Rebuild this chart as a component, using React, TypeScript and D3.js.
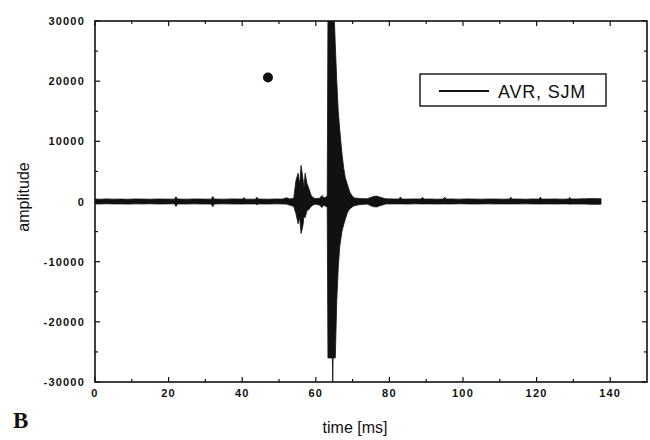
import * as d3 from "d3";

// envelope of the recorded signal, rows are [time ms, upper, lower]
const preBurst: [number, number, number][] = [
  [0, 420, -400], [1.5, 380, -420], [3, 430, -380], [5, 390, -410], [7, 410, -400],
  [9, 370, -430], [11, 430, -390], [13, 400, -410], [15, 380, -380], [17, 420, -420],
  [19, 400, -400], [21.6, 390, -380], [22, 780, -820], [22.4, 410, -400], [25, 380, -420],
  [27, 430, -390], [29, 400, -410], [31.6, 390, -420], [32, 820, -860], [32.4, 400, -400],
  [35, 380, -390], [37, 430, -410], [40.1, 400, -420], [40.5, 650, -420], [40.9, 390, -400],
  [43.6, 390, -400], [44, 720, -520], [44.4, 410, -400], [47, 380, -420], [49, 420, -390],
  [51, 400, -410], [52, 620, -430], [53, 430, -620], [54, 520, -820],
];
const burst: [number, number, number][] = [
  [54.6, 3500, -2000], [55.2, 4700, -3700], [55.6, 2800, -2600], [56, 6000, -5300],
  [56.5, 3800, -4000], [56.8, 2200, -2400], [57.1, 4700, -2700], [57.6, 3000, -1500],
  [58.2, 2000, -1300], [58.6, 1200, -900], [59, 800, -700], [59.5, 550, -500],
  [60, 500, -450], [61, 520, -600], [61.7, 1000, -1000], [62.2, 600, -600],
  [62.7, 700, -800], [63.1, 900, -900],
];
const mainPulse: [number, number, number][] = [
  [63.3, 31000, -26000], [64.5, 31000, -26000], [64.6, 31000, -30500], [64.7, 31000, -26000],
  [65.0, 31000, -26000], [65.3, 26000, -26000], [65.7, 20000, -16500], [66.1, 15000, -11000],
  [66.5, 12000, -7500], [67.1, 8000, -5000], [67.6, 5500, -3800], [68, 4000, -3000],
  [68.5, 3000, -2000], [68.9, 2200, -1500], [69.3, 1500, -1200], [69.9, 900, -900],
  [70.5, 600, -700],
];
const tail: [number, number, number][] = [
  [72, 480, -500], [74, 450, -430], [75.5, 800, -850], [76.5, 900, -900], [77.5, 700, -700],
  [79, 450, -400], [81, 420, -410], [82.6, 420, -400], [83, 750, -400], [83.4, 400, -400],
  [85, 400, -420], [87, 430, -390], [88.6, 410, -410], [89, 680, -410], [89.4, 410, -400],
  [91, 410, -400], [93, 380, -420], [94.6, 400, -400], [95, 700, -400], [95.4, 420, -410],
  [97, 420, -410], [99, 390, -380], [101, 430, -400], [103, 400, -420], [105, 380, -400],
  [107, 420, -390], [109, 400, -410], [111, 390, -400], [112.6, 400, -400], [113, 700, -420],
  [113.4, 410, -400], [115, 410, -400], [117, 380, -390], [119, 430, -410], [120.6, 400, -410],
  [121, 720, -430], [121.4, 400, -400], [123, 400, -400], [125, 420, -420], [127, 390, -400],
  [128.6, 420, -400], [129, 650, -450], [129.4, 420, -420], [131, 420, -420], [133, 450, -430],
  [135, 480, -460], [137.5, 460, -450],
];

const xTicks = [0, 20, 40, 60, 80, 100, 120, 140];
const xMinor = [10, 30, 50, 70, 90, 110, 130];
const yTicks = [-30000, -20000, -10000, 0, 10000, 20000, 30000];
const yMinor = [-25000, -15000, -5000, 5000, 15000, 25000];
const marker = { t: 47, v: 20600 };
const legendLabel = "AVR, SJM";

export default function App() {
  const x = d3.scaleLinear().domain([0, 150]).range([95, 647]);
  const y = d3.scaleLinear().domain([-30000, 30000]).range([382, 21]);
  const [x0, x1] = x.range();
  const [yb, yt] = y.range();

  const signal = [...preBurst, ...burst, ...mainPulse, ...tail];
  const area = d3
    .area<[number, number, number]>()
    .x((d) => x(d[0]))
    .y0((d) => y(d[2]))
    .y1((d) => y(d[1]));

  const tickFont = {
    fontFamily: "Liberation Sans, Arial, sans-serif",
    fontSize: 11,
    fontWeight: 700,
    letterSpacing: 1.2,
  };

  return (
    <svg width={650} height={440} style={{ position: "absolute", left: 0, top: 0, background: "#fff" }}>
      <defs>
        <clipPath id="plot">
          <rect x={x0} y={yt} width={x1 - x0} height={yb - yt} />
        </clipPath>
      </defs>

      <path
        d={area(signal) ?? ""}
        fill="#111"
        stroke="#111"
        strokeWidth={0.8}
        strokeLinejoin="round"
        clipPath="url(#plot)"
      />

      <circle cx={x(marker.t)} cy={y(marker.v)} r={5} fill="#111" />

      {/* frame */}
      <rect x={x0} y={yt} width={x1 - x0} height={yb - yt} fill="none" stroke="#111" strokeWidth={1.6} />

      {/* x ticks, bottom and top, pointing inward */}
      {xTicks.map((t) => (
        <g key={"xt" + t}>
          <line x1={x(t)} x2={x(t)} y1={yb} y2={yb - 5} stroke="#111" strokeWidth={1.2} />
          <line x1={x(t)} x2={x(t)} y1={yt} y2={yt + 5} stroke="#111" strokeWidth={1.2} />
          <text x={x(t)} y={397} textAnchor="middle" {...tickFont} fill="#111">
            {t}
          </text>
        </g>
      ))}
      {xMinor.map((t) => (
        <g key={"xm" + t}>
          <line x1={x(t)} x2={x(t)} y1={yb} y2={yb - 3} stroke="#111" strokeWidth={1.2} />
          <line x1={x(t)} x2={x(t)} y1={yt} y2={yt + 3} stroke="#111" strokeWidth={1.2} />
        </g>
      ))}

      {/* y ticks, left and right */}
      {yTicks.map((v) => (
        <g key={"yt" + v}>
          <line x1={x0} x2={x0 + 5} y1={y(v)} y2={y(v)} stroke="#111" strokeWidth={1.2} />
          <line x1={x1} x2={x1 - 5} y1={y(v)} y2={y(v)} stroke="#111" strokeWidth={1.2} />
          <text x={85} y={y(v) + 4} textAnchor="end" {...tickFont} fill="#111">
            {v}
          </text>
        </g>
      ))}
      {yMinor.map((v) => (
        <g key={"ym" + v}>
          <line x1={x0} x2={x0 + 3} y1={y(v)} y2={y(v)} stroke="#111" strokeWidth={1.2} />
          <line x1={x1} x2={x1 - 3} y1={y(v)} y2={y(v)} stroke="#111" strokeWidth={1.2} />
        </g>
      ))}

      {/* legend */}
      <rect x={420} y={74} width={186} height={32} fill="#fff" stroke="#111" strokeWidth={1.4} />
      <line x1={439} x2={489} y1={91} y2={91} stroke="#111" strokeWidth={2} />
      <text x={498} y={98} fontFamily="Liberation Sans, Arial, sans-serif" fontSize={18} letterSpacing={0.8} fill="#111">
        {legendLabel}
      </text>

      {/* axis titles */}
      <text
        transform="translate(29,197) rotate(-90)"
        textAnchor="middle"
        fontFamily="Liberation Sans, Arial, sans-serif"
        fontSize={16}
        fill="#111"
      >
        amplitude
      </text>
      <text x={355} y={433} textAnchor="middle" fontFamily="Liberation Sans, Arial, sans-serif" fontSize={16} fill="#111">
        time [ms]
      </text>

      <text x={13} y={428} fontFamily="Liberation Serif, Times New Roman, serif" fontSize={23} fontWeight={700} fill="#111">
        B
      </text>
    </svg>
  );
}
